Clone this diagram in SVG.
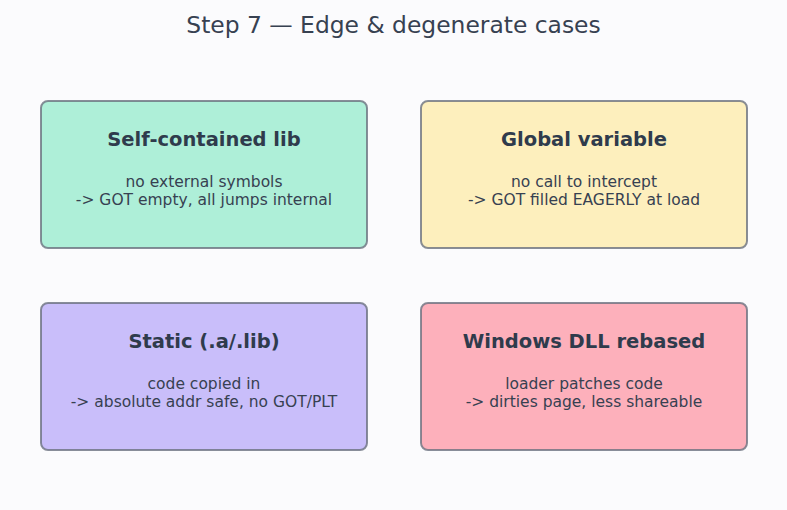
<svg xmlns="http://www.w3.org/2000/svg" width="787" height="510" viewBox="0 0 787 510">
<style>
.title{font-family:"DejaVu Sans",sans-serif;font-size:23.4px;fill:#374151;text-anchor:middle}
.box{stroke:#6b7280;stroke-opacity:0.8;stroke-width:2}
.h{font-family:"DejaVu Sans",sans-serif;font-size:19.5px;font-weight:bold;fill:#2f3b4c;text-anchor:middle}
.t{font-family:"DejaVu Sans",sans-serif;font-size:15.5px;fill:#374151;text-anchor:middle}
</style>
<rect width="787" height="510" fill="#fbfbfd"/>
<text class="title" x="393.5" y="33">Step 7 — Edge &amp; degenerate cases</text>
<g id="selfcontained">
<rect class="box" x="41" y="101" width="326" height="147" rx="7" fill="#aeefd8"/>
<text class="h" x="204" y="146">Self-contained lib</text>
<text class="t" x="204" y="187">no external symbols</text>
<text class="t" x="204" y="205">-&gt; GOT empty, all jumps internal</text>
</g>
<g id="globalvar">
<rect class="box" x="421" y="101" width="326" height="147" rx="7" fill="#fdefbd"/>
<text class="h" x="584" y="146">Global variable</text>
<text class="t" x="584" y="187">no call to intercept</text>
<text class="t" x="584" y="205">-&gt; GOT filled EAGERLY at load</text>
</g>
<g id="static">
<rect class="box" x="41" y="303" width="326" height="147" rx="7" fill="#c9befa"/>
<text class="h" x="204" y="348">Static (.a/.lib)</text>
<text class="t" x="204" y="389">code copied in</text>
<text class="t" x="204" y="407">-&gt; absolute addr safe, no GOT/PLT</text>
</g>
<g id="windll">
<rect class="box" x="421" y="303" width="326" height="147" rx="7" fill="#fdb0bb"/>
<text class="h" x="584" y="348">Windows DLL rebased</text>
<text class="t" x="584" y="389">loader patches code</text>
<text class="t" x="584" y="407">-&gt; dirties page, less shareable</text>
</g>
<g id="connectors"></g>
</svg>
